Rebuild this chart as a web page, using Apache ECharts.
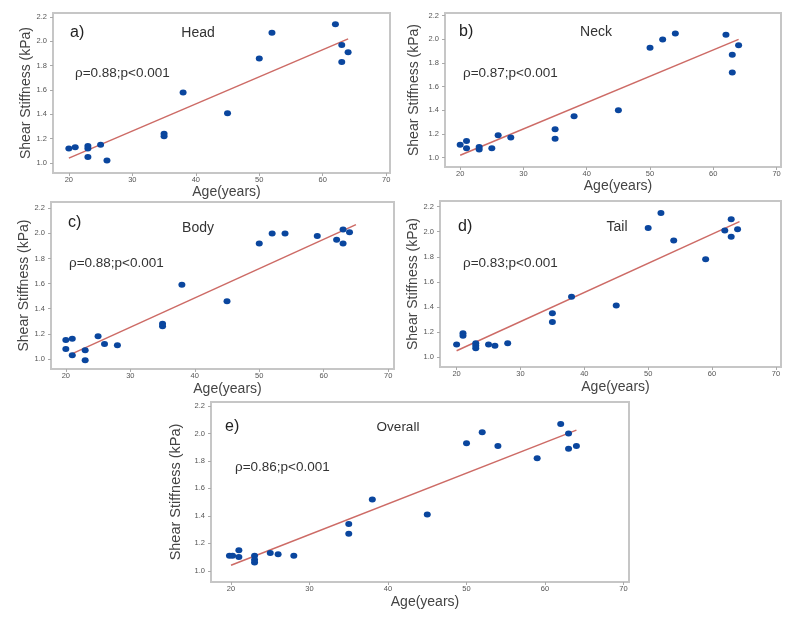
<!DOCTYPE html>
<html>
<head>
<meta charset="utf-8">
<script src="https://cdn.jsdelivr.net/npm/echarts@6/dist/echarts.min.js"></script>
<style>
  html, body { margin: 0; padding: 0; background: #fff; }
  #chart { width: 800px; height: 617px; }
</style>
</head>
<body>
<div id="chart"></div>
<script>
// tick values shared by all panels
var xTicks = [20, 30, 40, 50, 60, 70]
var yTicks = [1.0, 1.2, 1.4, 1.6, 1.8, 2.0, 2.2]

// a) head
var headAge = [20, 21, 23, 23, 23, 25, 26, 35, 35, 38, 45, 50, 52, 62, 63, 63, 64]
var headVal = [1.12, 1.13, 1.14, 1.12, 1.05, 1.15, 1.02, 1.24, 1.22, 1.58, 1.41, 1.86, 2.07, 2.14, 1.97, 1.83, 1.91]
var headFit = [[20, 1.04], [64, 2.02]]

// b) neck
var neckAge = [20, 21, 21, 23, 23, 25, 26, 28, 35, 35, 38, 45, 50, 52, 54, 62, 63, 63, 64]
var neckVal = [1.11, 1.14, 1.08, 1.09, 1.07, 1.08, 1.19, 1.17, 1.24, 1.16, 1.35, 1.40, 1.93, 2.00, 2.05, 2.04, 1.87, 1.72, 1.95]
var neckFit = [[20, 1.02], [64, 2.0]]

// c) body
var bodyAge = [20, 20, 21, 21, 23, 23, 25, 26, 28, 35, 35, 38, 45, 50, 52, 54, 59, 62, 63, 63, 64]
var bodyVal = [1.15, 1.08, 1.16, 1.03, 1.07, 0.99, 1.18, 1.12, 1.11, 1.28, 1.26, 1.59, 1.46, 1.92, 2.0, 2.0, 1.98, 1.95, 2.03, 1.92, 2.01]
var bodyFit = [[20.5, 1.03], [65, 2.07]]

// d) tail
var tailAge = [20, 21, 21, 23, 23, 23, 25, 26, 28, 35, 35, 38, 45, 50, 52, 54, 59, 62, 63, 63, 64]
var tailVal = [1.10, 1.19, 1.17, 1.11, 1.09, 1.07, 1.10, 1.09, 1.11, 1.35, 1.28, 1.48, 1.41, 2.03, 2.15, 1.93, 1.78, 2.01, 2.10, 1.96, 2.02]
var tailFit = [[20, 1.05], [64.3, 2.08]]

// e) overall
var overallAge = [19.8, 20.2, 21, 21, 23, 23, 23, 25, 26, 28, 35, 35, 38, 45, 50, 52, 54, 59, 62, 63, 63, 64]
var overallVal = [1.11, 1.11, 1.15, 1.10, 1.11, 1.08, 1.06, 1.13, 1.12, 1.11, 1.34, 1.27, 1.52, 1.41, 1.93, 2.01, 1.91, 1.82, 2.07, 2.00, 1.89, 1.91]
var overallFit = [[20, 1.04], [64, 2.025]]

var font = '"Liberation Sans", Arial, sans-serif'
var dotColor = '#0a469e'
var fitColor = '#cd6b66'

var panels = [
  { tag: 'a)', name: 'Head', rho: 'ρ=0.88;p<0.001', age: headAge, val: headVal, fit: headFit,
    grid: { left: 53, top: 13, width: 337, height: 160 }, x: [17.5, 70.6], y: [0.918, 2.233],
    yGap: 20, xGap: 12, tagAt: [70, 33], nameAt: [198, 33], rhoAt: [75, 73] },
  { tag: 'b)', name: 'Neck', rho: 'ρ=0.87;p<0.001', age: neckAge, val: neckVal, fit: neckFit,
    grid: { left: 445, top: 13, width: 336, height: 154 }, x: [17.6, 70.7], y: [0.921, 2.223],
    yGap: 24, xGap: 11, tagAt: [459, 32], nameAt: [596, 32], rhoAt: [463, 73] },
  { tag: 'c)', name: 'Body', rho: 'ρ=0.88;p<0.001', age: bodyAge, val: bodyVal, fit: bodyFit,
    grid: { left: 51, top: 202, width: 343, height: 167 }, x: [17.7, 70.9], y: [0.92, 2.25],
    yGap: 18, xGap: 13, tagAt: [68, 223], nameAt: [198, 228], rhoAt: [69, 263] },
  { tag: 'd)', name: 'Tail', rho: 'ρ=0.83;p<0.001', age: tailAge, val: tailVal, fit: tailFit,
    grid: { left: 440, top: 201, width: 341, height: 166 }, x: [17.4, 70.8], y: [0.92, 2.245],
    yGap: 19, xGap: 13, tagAt: [458, 227], nameAt: [617, 227], rhoAt: [463, 263] },
  { tag: 'e)', name: 'Overall', rho: 'ρ=0.86;p<0.001', age: overallAge, val: overallVal, fit: overallFit,
    grid: { left: 211, top: 402, width: 418, height: 180 }, x: [17.45, 70.7], y: [0.918, 2.23],
    yGap: 20, xGap: 13, tagAt: [225, 427], nameAt: [398, 427], rhoAt: [235, 467] }
]

var grids = []
var xAxes = []
var yAxes = []
var series = []
var texts = []

panels.forEach(function (p, i) {
  grids.push({
    left: p.grid.left, top: p.grid.top, width: p.grid.width, height: p.grid.height,
    show: true, borderColor: '#c6c6c6', borderWidth: 2, backgroundColor: '#fff'
  })
  xAxes.push({
    gridIndex: i, type: 'value', min: p.x[0], max: p.x[1],
    name: 'Age(years)', nameLocation: 'middle', nameGap: p.xGap,
    nameTextStyle: { fontFamily: font, fontSize: 14, color: '#444', padding: [0, 0, 0, 10] },
    axisLine: { show: false },
    axisTick: { show: true, length: 3, customValues: xTicks, lineStyle: { color: '#aaa' } },
    axisLabel: { customValues: xTicks, margin: 3, fontSize: 7.5, color: '#555', fontFamily: font },
    splitLine: { show: false }
  })
  yAxes.push({
    gridIndex: i, type: 'value', min: p.y[0], max: p.y[1],
    name: 'Shear Stiffness (kPa)', nameLocation: 'middle', nameGap: p.yGap,
    nameTextStyle: { fontFamily: font, fontSize: i === 4 ? 14.5 : 14, color: '#444' },
    axisLine: { show: false },
    axisTick: { show: true, length: 3, customValues: yTicks, lineStyle: { color: '#aaa' } },
    axisLabel: {
      customValues: yTicks, margin: 6, fontSize: 7.5, color: '#555', fontFamily: font,
      formatter: function (v) { return v.toFixed(1) }
    },
    splitLine: { show: false }
  })
  series.push({
    type: 'line', xAxisIndex: i, yAxisIndex: i, data: p.fit,
    symbol: 'none', lineStyle: { color: fitColor, width: 1.5 }, z: 2, silent: true
  })
  series.push({
    type: 'scatter', xAxisIndex: i, yAxisIndex: i,
    data: p.age.map(function (a, k) { return [a, p.val[k]] }),
    symbol: 'circle', symbolSize: [7, 6], itemStyle: { color: dotColor, opacity: 1 }, z: 3
  })
  texts.push({ type: 'text', x: p.tagAt[0], y: p.tagAt[1],
    style: { text: p.tag, font: '16px ' + font, fill: '#222', align: 'left', verticalAlign: 'middle', textAlign: 'left', textVerticalAlign: 'middle' } })
  texts.push({ type: 'text', x: p.nameAt[0], y: p.nameAt[1],
    style: { text: p.name, font: (i === 4 ? '13.5px ' : '14px ') + font, fill: '#333', align: 'center', verticalAlign: 'middle', textAlign: 'center', textVerticalAlign: 'middle' } })
  texts.push({ type: 'text', x: p.rhoAt[0], y: p.rhoAt[1],
    style: { text: p.rho, font: '13.5px ' + font, fill: '#333', align: 'left', verticalAlign: 'middle', textAlign: 'left', textVerticalAlign: 'middle' } })
})

var chart = echarts.init(document.getElementById('chart'))
chart.setOption({
  backgroundColor: '#fff',
  animation: false,
  grid: grids,
  xAxis: xAxes,
  yAxis: yAxes,
  series: series,
  graphic: { elements: texts }
})
</script>
</body>
</html>
